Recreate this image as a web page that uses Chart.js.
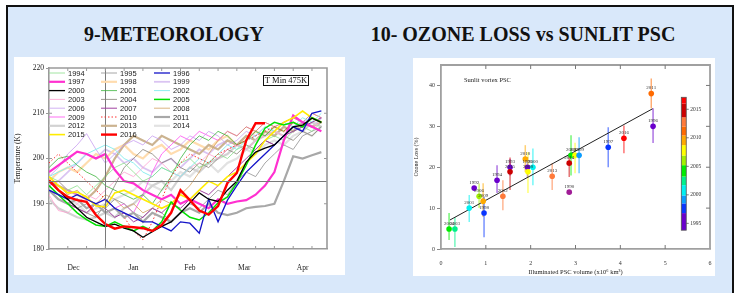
<!DOCTYPE html>
<html>
<head>
<meta charset="utf-8">
<script src="https://cdn.jsdelivr.net/npm/chart.js@4"></script>
<style>
html, body { margin: 0; padding: 0; background: #fff; width: 738px; height: 293px; overflow: hidden; }
#frame { position: absolute; left: 6px; top: 5px; width: 724px; height: 292px; background: #d9e8fa; border: 2px solid #111; border-bottom: none; }
.ttl { position: absolute; top: 24px; font: bold 20px "Liberation Serif", serif; line-height: 20px; color: #111; white-space: nowrap; transform: translateX(-50%); }
canvas { position: absolute; background: #fff; }
</style>
</head>
<body>
<div id="frame"></div>
<div class="ttl" style="left:174px">9-METEOROLOGY</div>
<div class="ttl" style="left:523px">10- OZONE LOSS vs SUNLIT PSC</div>
<canvas id="met" width="331" height="218" style="left:14px;top:57px"></canvas>
<canvas id="psc" width="302" height="218" style="left:413px;top:58px"></canvas>
<script>
// ---- 9: minimum temperature at 475K, one series per winter ----
const days = [0, 5, 10, 15, 20, 25, 30, 35, 40, 45, 50, 55, 60, 65, 70, 75, 80, 85, 90, 95, 100, 105, 110, 115, 120, 125, 130, 135, 140, 145];
const monthNames = ["Dec", "Jan", "Feb", "Mar", "Apr"];
const monthMid = [13, 45, 75, 104, 135];
const janFirst = 30;
const tRef = 195;

const t1994 = [196, 195, 193, 194, 192, 194, 196, 198, 199, 197, 195, 196, 198, 197, 199, 200, 198, 199, 201, 200, 202, 203, 201, 204, 205, 204, 206, 207, 206, 208];
const t1995 = [194, 192, 191, 189, 190, 188, 189, 191, 190, 188, 187, 189, 188, 186, 188, 190, 189, 191, 193, 192, 195, 197, 196, 199, 201, 203, 202, 205, 206, 207];
const t1996 = [193, 192, 191, 192, 191, 190, 191, 189, 188, 187, 186, 186, 185, 184, 186, 185.7, 183.5, 191, 186, 190.8, 194, 197, 199, 201, 203, 205, 207, 206, 210, 210.5];
const t1997 = [197, 198.5, 200, 201.5, 201, 200, 201, 197.5, 195, 194.5, 193, 192, 191, 192, 190, 191, 190, 189, 191, 190, 190.5, 190.8, 192, 194, 197, 204, 209.5, 208, 207, 206];
const t1998 = [195, 197, 198, 197, 199, 201, 200, 202, 203, 201, 200, 202, 203, 201, 202, 204, 203, 202, 204, 205, 203, 204, 206, 205, 207, 206, 208, 207, 209, 208];
const t1999 = [194, 195, 197, 199, 201, 200, 202, 201, 199, 200, 198, 197, 199, 200, 198, 200, 202, 201, 203, 204, 203, 205, 204, 206, 205, 207, 206, 208, 207, 209];
const t2000 = [195, 193, 191, 189, 187, 186, 185, 185.5, 184.6, 184, 182.6, 183.8, 185, 186, 188, 190.2, 192.4, 191, 190.5, 193, 195, 199.2, 201.4, 202.3, 203, 205, 207, 207.4, 208.9, 208];
const t2001 = [198, 200, 200.5, 198.5, 197, 196, 194, 193, 192, 191, 192, 190, 193, 196, 200, 203, 205, 204, 206, 205, 203, 204, 206, 205, 207, 206, 208, 207, 209, 208];
const t2002 = [196, 197, 198, 199, 201, 202, 203, 202, 200, 199, 197, 196, 198, 197, 196, 198, 200, 199, 201, 203, 202, 204, 205, 207, 206, 208, 207, 209, 208, 210];
const t2003 = [192, 188.5, 188, 190, 192, 191, 193, 195, 197, 196, 198, 200, 199, 197, 196, 198, 199, 201, 200, 202, 203, 202, 204, 205, 206, 205, 207, 208, 207, 208];
const t2004 = [193, 192, 190, 189, 188, 187, 190, 194, 198, 200, 202, 201, 199, 200, 198, 197, 199, 198, 200, 202, 201, 203, 202, 204, 203, 205, 204, 206, 205, 207];
const t2005 = [194, 192, 190, 188, 186.5, 185.3, 185, 186, 185, 184, 185, 184, 186, 190.4, 188.6, 187, 186.4, 188, 190.2, 191.5, 194.6, 198.5, 203, 206.7, 208, 207.4, 208, 207, 209, 208];
const t2006 = [196, 198, 201, 203, 205.5, 202, 199, 201, 203, 204, 203, 205, 204, 202, 203, 205, 204, 206, 205, 203, 204, 206, 205, 207, 206, 208, 207, 208, 209, 208];
const t2007 = [193, 191, 190, 189, 188, 190, 189, 187, 188, 186, 187, 189, 188, 190, 189, 191, 193, 192, 194, 196, 198, 200, 202, 204, 203, 205, 206, 207, 208, 209];
const t2008 = [195, 194, 192, 193, 191, 190, 192, 191, 189, 190, 188, 189, 191, 190, 192, 194, 197, 201, 204, 206, 205, 207, 206, 208, 207, 208, 209, 208, 210, 209];
const t2009 = [194, 195, 193, 192, 191, 190, 191, 189, 190, 188, 192, 197, 201, 203, 205, 204, 206, 205, 204, 206, 205, 207, 206, 208, 207, 208, 209, 208, 210, 209];
const t2010 = [199, 201, 199, 197, 195, 193, 191, 189, 187, 184, 182, 186, 191, 196, 199, 201, 200, 199, 201, 202, 203, 204, 205, 206, 207, 206, 208, 207, 209, 208];
const t2011 = [193, 191, 190, 191, 189, 190, 188, 189, 187, 188, 186, 188, 187, 186, 188, 189, 188, 190, 188, 187.5, 188, 189, 189.3, 189.5, 190, 195, 200.5, 200, 200.7, 201.4];
const t2012 = [191, 189, 188, 187, 186.5, 187, 188, 187, 189, 190, 192, 194, 195, 193, 196, 198, 197, 199, 200, 201, 203, 202, 204, 205, 206, 205, 207, 206, 208, 207];
const t2013 = [195, 194, 193, 192, 191, 193, 196, 200, 203, 205, 204, 203, 205, 204, 203, 202, 201, 203, 202, 204, 203, 205, 204, 206, 205, 207, 206, 208, 207, 208];
const t2014 = [193, 192, 191, 190, 188, 189, 190, 191, 192, 193, 195, 194, 193, 195, 197, 196, 198, 199, 197, 199, 200, 202, 201, 203, 204, 203, 205, 206, 205, 207];
const t2015 = [196, 194, 192.4, 192.6, 191.5, 189.5, 189.3, 192.4, 193, 192, 191, 190, 189, 190, 192, 191, 193, 195, 194, 196, 197, 199, 201, 204, 206, 208, 209, 210.5, 209, 208];
const t2016 = [195.2, 193, 191.5, 190.8, 190.4, 187.5, 185.5, 184.5, 185, 184.8, 184.6, 184, 185.3, 188, 193, 190.8, 188.5, 187.6, 189.5, 194.6, 196.8, 204, 207.8, 207.8];

const metYears = [1994, 1995, 1996, 1997, 1998, 1999, 2000, 2001, 2002, 2003, 2004, 2005,
    2006, 2007, 2008, 2009, 2010, 2011, 2012, 2013, 2014, 2015, 2016];
const metSeries = [t1994, t1995, t1996, t1997, t1998, t1999, t2000, t2001, t2002, t2003, t2004, t2005,
    t2006, t2007, t2008, t2009, t2010, t2011, t2012, t2013, t2014, t2015, t2016];

// line look per winter (colour, width, dash, drawing layer: lower = on top)
const metStyle = {
    1994: { c: "#8ade8a", w: 0.8, z: 20 },
    1995: { c: "#909090", w: 0.8, z: 20 },
    1996: { c: "#1414c8", w: 1.3, z: 2 },
    1997: { c: "#ff30d0", w: 2.2, z: 5 },
    1998: { c: "#ffdcae", w: 2.2, z: 22 },
    1999: { c: "#dac4f2", w: 1.8, z: 22 },
    2000: { c: "#000000", w: 1.3, z: 1 },
    2001: { c: "#3cb43c", w: 0.8, z: 20 },
    2002: { c: "#8eeeee", w: 1.0, z: 20 },
    2003: { c: "#ffa0d0", w: 0.8, z: 20 },
    2004: { c: "#858075", w: 0.8, z: 20 },
    2005: { c: "#00e000", w: 1.5, z: 3 },
    2006: { c: "#c89ef0", w: 0.8, z: 20 },
    2007: { c: "#a040a0", w: 1.0, z: 18 },
    2008: { c: "#d2a262", w: 0.8, z: 20 },
    2009: { c: "#ff4cf0", w: 0.8, z: 20 },
    2010: { c: "#ff3030", w: 1.0, z: 18, d: [1.5, 2] },
    2011: { c: "#a8a8a8", w: 2.2, z: 6 },
    2012: { c: "#d2d2d2", w: 2.2, z: 21 },
    2013: { c: "#cbb390", w: 2.2, z: 21 },
    2014: { c: "#e2e2e2", w: 2.2, z: 23 },
    2015: { c: "#ffec00", w: 1.6, z: 4 },
    2016: { c: "#ff0000", w: 2.4, z: 0 },
};

// ---- 10: ozone loss vs sunlit PSC volume ----
const pscYears  = [2016, 2011, 1996, 1997, 2005, 2007, 1999, 2014, 1990, 2013, 2010, 1995, 2000, 2008,
    1993, 2015, 1994, 1992, 2012, 2006, 2009, 2001, 1998, 2004, 2003];
const pscVolume = [4.08, 4.69, 4.73, 3.73, 2.90, 2.99, 3.08, 2.86, 2.86, 2.48, 1.88, 1.93, 2.05, 1.94,
    1.54, 1.54, 1.25, 0.74, 1.38, 0.85, 0.94, 0.63, 0.96, 0.18, 0.31];
const ozoneLoss = [27.1, 38.0, 30.0, 24.9, 22.9, 22.9, 22.9, 21.0, 13.9, 17.8, 22.0, 20.0, 20.0, 18.9,
    20.0, 18.9, 16.8, 14.9, 12.9, 12.9, 11.7, 10.0, 8.8, 4.9, 4.9];
const lossLow   = [23.4, 34.4, 25.9, 20.0, 18.0, 18.5, 18.5, 17.6, 13.9, 14.4, 18.8, 17.5, 15.6, 13.7,
    18.0, 14.4, 13.7, 14.9, 9.5, 10.0, 7.8, 6.6, 2.9, 2.2, 0.5];
const lossHigh  = [30.2, 41.7, 34.4, 29.8, 27.8, 26.0, 27.3, 22.9, 13.9, 21.0, 25.4, 22.5, 24.6, 23.7,
    22.0, 22.4, 20.5, 14.9, 16.8, 16.0, 16.1, 13.2, 12.7, 8.8, 7.8];
const fitVolume = [0.2, 4.72];
const fitLoss = [7.1, 34.3];

// colour bar: band edges in years and their colours
const cbEdges = [1991, 1996.8, 1998.5, 1999.9, 2001.7, 2003.2, 2005.2, 2006.9, 2008.7, 2010.4, 2012, 2013.6, 2016, 2017.1];
const cbColors = ["#6a00cc", "#0a36ff", "#0a9cff", "#00f0f0", "#00f08c", "#00ec00", "#a2f000",
    "#ffff00", "#ffaa00", "#ff6a00", "#ff7a3a", "#cc0000", "#ff0000"];
const cbTicks = [1995, 2000, 2005, 2010, 2015];
const cbBarMin = 1993.8;

function yearColor(y) {
    if (y < cbEdges[0]) return "#a01c96";
    for (let i = 0; i < cbColors.length; i++) {
        if (y < cbEdges[i + 1]) return cbColors[i];
    }
    return cbColors[cbColors.length - 1];
}

Chart.defaults.font.family = "'Liberation Serif', serif";
Chart.defaults.color = "#333";

// reference lines, frame, inner tick marks, legend and label box for panel 9
const metDecor = {
    id: "metDecor",
    afterDatasetsDraw(chart) {
        const { ctx, chartArea: a, scales } = chart;
        const x = scales.x, y = scales.y;
        ctx.save();
        ctx.strokeStyle = "#7a7a7a";
        ctx.lineWidth = 1;
        const yr = Math.round(y.getPixelForValue(tRef)) + 0.5;
        const xj = Math.round(x.getPixelForValue(janFirst)) + 0.5;
        ctx.beginPath();
        ctx.moveTo(a.left, yr); ctx.lineTo(a.right, yr);
        ctx.moveTo(xj, a.top); ctx.lineTo(xj, a.bottom);
        ctx.stroke();

        ctx.strokeStyle = "#9a9a9a";
        ctx.lineWidth = 1.6;
        ctx.beginPath();
        ctx.moveTo(a.left, a.top); ctx.lineTo(a.right, a.top); ctx.lineTo(a.right, a.bottom);
        ctx.stroke();

        ctx.lineWidth = 1;
        ctx.beginPath();
        for (let d = 10; d < 148; d += 10) {
            const px = x.getPixelForValue(d);
            ctx.moveTo(px, a.bottom); ctx.lineTo(px, a.bottom - 3);
            ctx.moveTo(px, a.top); ctx.lineTo(px, a.top + 3);
        }
        for (let t = 190; t <= 210; t += 10) {
            const py = y.getPixelForValue(t);
            ctx.moveTo(a.right, py); ctx.lineTo(a.right - 3, py);
            ctx.moveTo(a.left, py); ctx.lineTo(a.left + 3, py);
        }
        ctx.stroke();
        ctx.restore();
    },
    afterDraw(chart) {
        const { ctx, chartArea: a } = chart;
        const colX = [0, 52, 105];
        ctx.save();
        ctx.font = "7.5px 'Liberation Sans', sans-serif";
        ctx.textBaseline = "middle";
        chart.data.datasets.forEach((ds, i) => {
            const lx = a.left + colX[i % 3];
            const ly = a.top + 5 + Math.floor(i / 3) * 8.8;
            ctx.strokeStyle = ds.borderColor;
            ctx.lineWidth = ds.borderWidth;
            ctx.setLineDash(ds.borderDash || []);
            ctx.beginPath();
            ctx.moveTo(lx, ly); ctx.lineTo(lx + 16, ly);
            ctx.stroke();
            ctx.setLineDash([]);
            ctx.fillStyle = "#1a1a1a";
            ctx.fillText(ds.label, lx + 19, ly + 0.5);
        });

        // "T Min 475K" box
        const bx = a.left + 214, by = a.top + 7;
        ctx.fillStyle = "#fff";
        ctx.fillRect(bx, by, 45, 10);
        ctx.strokeStyle = "#111";
        ctx.lineWidth = 1;
        ctx.strokeRect(bx + 0.5, by + 0.5, 45, 10);
        ctx.fillStyle = "#111";
        ctx.font = "8.5px 'Liberation Serif', serif";
        ctx.textAlign = "center";
        ctx.fillText("T Min 475K", bx + 23, by + 5.5);
        ctx.restore();
    },
};

new Chart(document.getElementById("met"), {
    type: "line",
    data: {
        datasets: metYears.map((yr, i) => {
            const s = metStyle[yr];
            return {
                label: String(yr),
                data: metSeries[i].map((v, k) => ({ x: days[k], y: v })),
                borderColor: s.c,
                borderWidth: s.w,
                borderDash: s.d || [],
                pointRadius: 0,
                tension: 0,
                order: s.z,
            };
        }),
    },
    options: {
        responsive: false,
        animation: false,
        layout: { padding: { top: 11, right: 18, left: 0, bottom: 0 } },
        scales: {
            x: {
                type: "linear",
                min: 0,
                max: 148,
                afterBuildTicks: (s) => { s.ticks = monthMid.map((v) => ({ value: v })); },
                afterFit: (s) => { s.height = 26; },
                ticks: {
                    autoSkip: false,
                    maxRotation: 0,
                    padding: 7,
                    font: { size: 7.5 },
                    color: "#222",
                    callback: (v) => monthNames[monthMid.indexOf(v)],
                },
                grid: { display: false },
                border: { color: "#9a9a9a", width: 1.6 },
            },
            y: {
                min: 180,
                max: 220,
                afterFit: (s) => { s.width = 35; },
                ticks: { stepSize: 10, padding: 2, font: { size: 7.5 }, color: "#222" },
                grid: { drawOnChartArea: false, tickLength: 3, color: "#9a9a9a" },
                border: { color: "#9a9a9a", width: 1.6 },
                title: { display: true, text: "Temperature (K)", font: { size: 7.5 }, color: "#222", padding: 0 },
            },
        },
        plugins: { legend: { display: false }, tooltip: { enabled: false } },
    },
    plugins: [metDecor],
});

// error bars, year labels, frame and colour bar for panel 10
const pscDecor = {
    id: "pscDecor",
    beforeDatasetsDraw(chart) {
        const { ctx, scales: { x, y } } = chart;
        ctx.save();
        ctx.globalAlpha = 0.55;
        ctx.lineWidth = 1.5;
        pscYears.forEach((yr, i) => {
            if (lossHigh[i] - lossLow[i] < 0.5) return;
            const px = x.getPixelForValue(pscVolume[i]);
            ctx.strokeStyle = yearColor(yr);
            ctx.beginPath();
            ctx.moveTo(px, y.getPixelForValue(lossLow[i]));
            ctx.lineTo(px, y.getPixelForValue(lossHigh[i]));
            ctx.stroke();
        });
        ctx.restore();
    },
    afterDatasetsDraw(chart) {
        const { ctx, chartArea: a, scales: { x, y } } = chart;
        ctx.save();
        // year labels
        ctx.font = "5px 'Liberation Serif', serif";
        ctx.fillStyle = "#333";
        ctx.textAlign = "center";
        ctx.textBaseline = "bottom";
        pscYears.forEach((yr, i) => {
            ctx.fillText(String(yr), x.getPixelForValue(pscVolume[i]), y.getPixelForValue(ozoneLoss[i]) - 3);
        });

        // frame + inner ticks
        ctx.strokeStyle = "#a0a0a0";
        ctx.lineWidth = 1.8;
        ctx.beginPath();
        ctx.moveTo(a.left, a.top); ctx.lineTo(a.right, a.top); ctx.lineTo(a.right, a.bottom);
        ctx.stroke();
        ctx.lineWidth = 1;
        ctx.strokeStyle = "#777";
        ctx.beginPath();
        for (let v = 1; v < 6; v++) {
            const px = x.getPixelForValue(v);
            ctx.moveTo(px, a.bottom); ctx.lineTo(px, a.bottom - 4);
            ctx.moveTo(px, a.top); ctx.lineTo(px, a.top + 4);
        }
        for (let v = 10; v <= 40; v += 10) {
            const py = y.getPixelForValue(v);
            ctx.moveTo(a.right, py); ctx.lineTo(a.right - 4, py);
        }
        ctx.stroke();

        // "Sunlit vortex PSC"
        ctx.font = "6.5px 'Liberation Serif', serif";
        ctx.fillStyle = "#222";
        ctx.textAlign = "left";
        ctx.textBaseline = "middle";
        ctx.fillText("Sunlit vortex PSC", a.left + 23, a.top + 15);

        // colour bar (years mapped onto ozone-loss axis 4.6 .. 37.1)
        const yrToPx = (yr) => y.getPixelForValue(4.6 + (yr - cbBarMin) * (37.1 - 4.6) / (cbEdges[cbEdges.length - 1] - cbBarMin));
        const bx0 = x.getPixelForValue(5.36), bx1 = x.getPixelForValue(5.47);
        cbColors.forEach((c, i) => {
            const lo = Math.max(cbEdges[i], cbBarMin);
            ctx.fillStyle = c;
            ctx.fillRect(bx0, yrToPx(cbEdges[i + 1]), bx1 - bx0, yrToPx(lo) - yrToPx(cbEdges[i + 1]));
        });
        ctx.strokeStyle = "#555";
        ctx.lineWidth = 0.8;
        ctx.strokeRect(bx0, yrToPx(cbEdges[cbEdges.length - 1]), bx1 - bx0, yrToPx(cbBarMin) - yrToPx(cbEdges[cbEdges.length - 1]));
        ctx.font = "5.5px 'Liberation Serif', serif";
        ctx.fillStyle = "#333";
        cbTicks.forEach((t) => {
            const py = yrToPx(t);
            ctx.beginPath();
            ctx.moveTo(bx1, py); ctx.lineTo(bx1 + 2.5, py);
            ctx.stroke();
            ctx.fillText(String(t), bx1 + 4, py);
        });
        ctx.restore();
    },
};

new Chart(document.getElementById("psc"), {
    type: "scatter",
    data: {
        datasets: [
            {
                label: "years",
                data: pscVolume.map((v, i) => ({ x: v, y: ozoneLoss[i] })),
                pointRadius: 2.8,
                pointBorderWidth: 0,
                pointBackgroundColor: pscYears.map(yearColor),
                order: 1,
            },
            {
                label: "fit",
                type: "line",
                data: fitVolume.map((v, i) => ({ x: v, y: fitLoss[i] })),
                borderColor: "#222",
                borderWidth: 1,
                pointRadius: 0,
                order: 2,
            },
        ],
    },
    options: {
        responsive: false,
        animation: false,
        layout: { padding: { top: 7, right: 5, left: 0, bottom: 0 } },
        scales: {
            x: {
                type: "linear",
                min: 0,
                max: 6,
                afterFit: (s) => { s.height = 27; },
                ticks: { stepSize: 1, padding: 3, font: { size: 6 }, color: "#333" },
                grid: { display: false },
                border: { color: "#a0a0a0", width: 1.8 },
                title: { display: true, text: "Illuminated PSC volume (x10\u2076 km\u00b3)", font: { size: 6.5 }, color: "#222", padding: 0 },
            },
            y: {
                min: 0,
                max: 45,
                afterBuildTicks: (s) => { s.ticks = s.ticks.filter((t) => t.value % 10 === 0); },
                afterFit: (s) => { s.width = 28; },
                ticks: { stepSize: 10, padding: 2, font: { size: 6 }, color: "#333" },
                grid: { drawOnChartArea: false, tickLength: 4, color: "#888" },
                border: { color: "#a0a0a0", width: 1.8 },
                title: { display: true, text: "Ozone Loss (%)", font: { size: 6 }, color: "#222", padding: 0 },
            },
        },
        plugins: { legend: { display: false }, tooltip: { enabled: false } },
    },
    plugins: [pscDecor],
});
</script>
</body>
</html>
